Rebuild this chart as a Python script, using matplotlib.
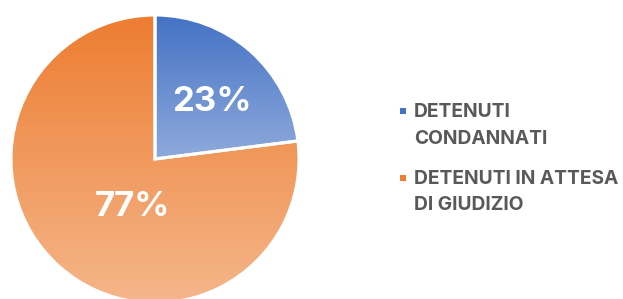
import numpy as np
import matplotlib.pyplot as plt
from matplotlib.colors import LinearSegmentedColormap
from matplotlib.patches import Rectangle

# data
labels = ['DETENUTI\nCONDANNATI', 'DETENUTI IN ATTESA\nDI GIUDIZIO']
shares = [23, 77]
top_colors = ['#4472C4', '#ED7D31']
bottom_colors = ['#8FAADC', '#F5B68A']

plt.rcParams['font.family'] = ['Inter', 'DejaVu Sans']

W, H = 623, 299
fig = plt.figure(figsize=(W / 100, H / 100), dpi=100)
ax = fig.add_axes([0, 0, 1, 1])

# pie in pixel coordinates (y up)
cx, cy, r = 155, H - 159, 144
wedges, texts, autotexts = ax.pie(
    shares, startangle=90, counterclock=False, center=(cx, cy), radius=r,
    autopct='%1.0f%%', pctdistance=0.6,
    wedgeprops=dict(edgecolor='white', linewidth=2.2),
    textprops=dict(color='white', fontsize=25, fontweight='bold'))

# vertical gradient inside each slice
for w, c_top, c_bot in zip(wedges, top_colors, bottom_colors):
    ext = w.get_path().get_extents()
    cmap = LinearSegmentedColormap.from_list('g', [c_bot, c_top])
    grad = np.linspace(0, 1, 256).reshape(-1, 1)
    im = ax.imshow(grad, cmap=cmap, origin='lower', aspect='auto',
                   extent=[ext.x0, ext.x1, ext.y0, ext.y1], zorder=1)
    im.set_clip_path(w)
    w.set_facecolor('none')
    w.set_zorder(2)

# label placement (distance, angle) roughly as in the original
for t, (dist, deg) in zip(autotexts, [(0.56, 45.2), (0.37, -115)]):
    a = np.deg2rad(deg)
    t.set_position((cx + dist * r * np.cos(a), cy + dist * r * np.sin(a)))
    t.set_zorder(3)

# legend drawn by hand so markers line up with first line
entry_y = [H - 117, H - 184]
for lab, col, y in zip(labels, top_colors, entry_y):
    ax.add_patch(Rectangle((400, y + 3), 6, 6, facecolor=col, edgecolor='none'))
    for i, line in enumerate(lab.split('\n')):
        ax.text(414, y - i * 26.5, line, ha='left', va='baseline', fontsize=13.8,
                fontweight='bold', color='#595959')

ax.set_xlim(0, W)
ax.set_ylim(0, H)
ax.set_aspect('auto')
ax.axis('off')

fig.savefig('out.png', dpi=100)
